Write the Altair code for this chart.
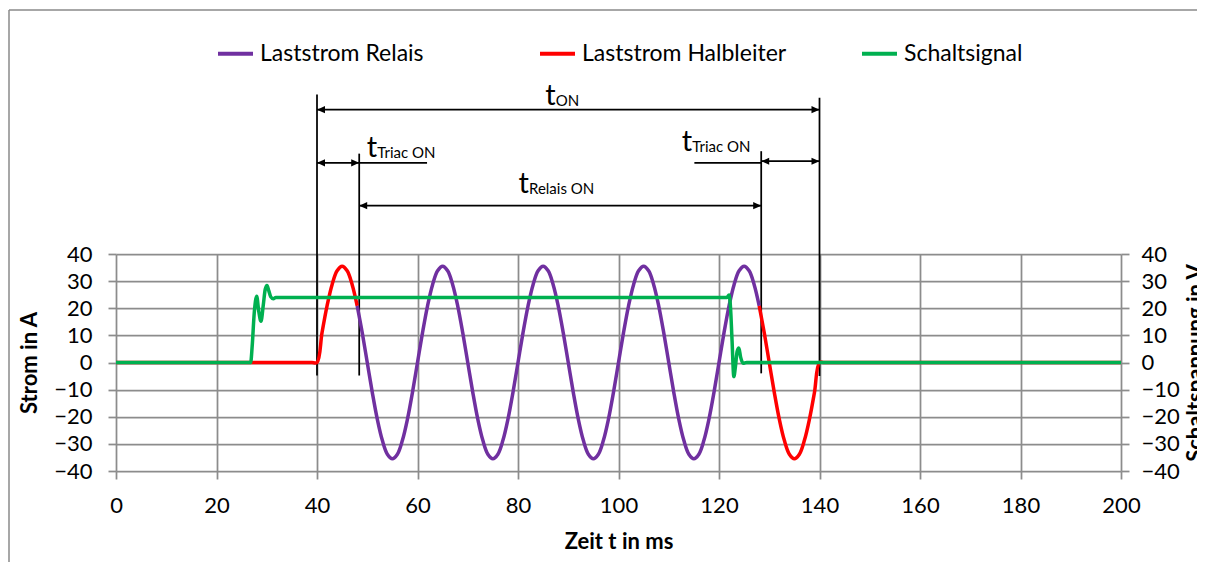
import altair as alt
import pandas as pd

# ---------------- data ----------------
series_names = ["Laststrom Relais", "Laststrom Halbleiter", "Schaltsignal"]
series_colors = ["#7030A0", "#FF0000", "#00B050"]

x_ticks = [0, 20, 40, 60, 80, 100, 120, 140, 160, 180, 200]
y_ticks = [-40, -30, -20, -10, 0, 10, 20, 30, 40]

# Laststrom Halbleiter (semiconductor current), two conducting windows
halb1_t = [0, 20, 38, 39, 40, 41, 42, 43, 44, 45, 46, 47, 48]
halb1_a = [0, 0, 0, 0, 0, 11.0, 20.9, 28.7, 33.8, 35.5, 33.8, 28.7, 20.9]
halb2_t = [128, 129, 130, 131, 132, 133, 134, 135, 136, 137, 138, 139, 140, 141, 160, 200]
halb2_a = [20.9, 11.0, 0, -11.0, -20.9, -28.7, -33.8, -35.5, -33.8, -28.7, -20.9, -11.0, 0, 0, 0, 0]

# Laststrom Relais (relay current), 48 ms .. 128 ms in 1 ms steps
relais_t = list(range(48, 129))
relais_a = [
    20.9, 11.0,
    0, -11.0, -20.9, -28.7, -33.8, -35.5, -33.8, -28.7, -20.9, -11.0,
    0, 11.0, 20.9, 28.7, 33.8, 35.5, 33.8, 28.7, 20.9, 11.0,
    0, -11.0, -20.9, -28.7, -33.8, -35.5, -33.8, -28.7, -20.9, -11.0,
    0, 11.0, 20.9, 28.7, 33.8, 35.5, 33.8, 28.7, 20.9, 11.0,
    0, -11.0, -20.9, -28.7, -33.8, -35.5, -33.8, -28.7, -20.9, -11.0,
    0, 11.0, 20.9, 28.7, 33.8, 35.5, 33.8, 28.7, 20.9, 11.0,
    0, -11.0, -20.9, -28.7, -33.8, -35.5, -33.8, -28.7, -20.9, -11.0,
    0, 11.0, 20.9, 28.7, 33.8, 35.5, 33.8, 28.7,
    20.9,
]

# Schaltsignal (switching voltage)
sig_t = [0, 26.8, 27.1, 27.5, 28.0, 28.4, 28.85, 29.3, 29.7, 30.05, 30.4, 30.8, 31.3, 31.8,
         121.6, 122.0, 122.3, 122.6, 122.95, 123.3, 123.6, 123.95, 124.3, 124.8, 125.5, 200]
sig_v = [0, 0, 6, 18, 24.4, 19, 15.2, 21, 27, 28.4, 26.5, 24.2, 23.5, 24.0,
         24.0, 24.9, 20, 8, -5.2, -1, 4, 5.3, 2, -0.3, 0, 0]

# annotation (time in ms, level in axis units)
marker_t = [40, 48.4, 128.4, 140]
marker_top = [98.8, 77.0, 77.9, 97.6]
marker_bottom = [-4.8, -4.8, -4.0, -5.0]

arrow_from = [40, 40, 128.4, 48.4]
arrow_to = [140, 48.4, 140, 128.4]
arrow_level = [93.2, 73.6, 74.2, 57.8]

leader_from = [48.4, 115.1]
leader_to = [61.9, 128.4]
leader_level = [73.6, 73.6]

label_t = [85.4, 49.9, 112.6, 80.1]
label_level = [95.1, 75.9, 77.9, 62.6]
label_sub = ["ON", "Triac ON", "Triac ON", "Relais ON"]

# ---------------- tables ----------------
cur_rows = []
for t, a in zip(halb1_t, halb1_a):
    cur_rows.append({"t": t, "a": a, "series": series_names[1], "seg": "h1"})
for t, a in zip(relais_t, relais_a):
    cur_rows.append({"t": t, "a": a, "series": series_names[0], "seg": "r"})
for t, a in zip(halb2_t, halb2_a):
    cur_rows.append({"t": t, "a": a, "series": series_names[1], "seg": "h2"})
cur_df = pd.DataFrame(cur_rows)

sig_df = pd.DataFrame({"t": sig_t, "v": sig_v, "series": series_names[2]})
markers_df = pd.DataFrame({"t": marker_t, "top": marker_top, "bottom": marker_bottom})
arrows_df = pd.DataFrame({"x1": arrow_from, "x2": arrow_to, "lvl": arrow_level})
leaders_df = pd.DataFrame({"x1": leader_from, "x2": leader_to, "lvl": leader_level})
labels_df = pd.DataFrame({"x": label_t, "lvl": label_level, "sub": label_sub})
one_df = pd.DataFrame({"k": [0]})

# ---------------- style ----------------
FONT = "Lato"
GRID = "#8c8c8c"

xscale = alt.Scale(domain=[0, 200], nice=False, zero=False)
yscale = alt.Scale(domain=[-40, 40], nice=False, zero=False)

x_axis = alt.Axis(values=x_ticks, grid=True, labelFlush=False, labelOverlap=False,
                  labelPadding=16, titlePadding=15)
y_axis_left = alt.Axis(values=y_ticks, grid=True, orient="left", labelOverlap=False,
                       labelPadding=16, titlePadding=12)
y_axis_right = alt.Axis(values=y_ticks, grid=False, orient="right", labelOverlap=False,
                        labelPadding=12, labelAlign="left", titlePadding=6,
                        titleAngle=270, titleBaseline="top")


def X(field):
    return alt.X(f"{field}:Q", scale=xscale, axis=x_axis, title="Zeit t in ms")


def Y(field):
    return alt.Y(f"{field}:Q", scale=yscale, axis=y_axis_left, title="Strom in A")


color = alt.Color(
    "series:N",
    scale=alt.Scale(domain=series_names, range=series_colors),
    title=None,
    legend=alt.Legend(orient="none", legendX=100, legendY=-220, direction="horizontal",
                      columns=3, gridAlign="all", symbolType="stroke", symbolSize=1225,
                      symbolStrokeWidth=4, labelFontSize=23, labelFont=FONT,
                      labelColor="black", labelOffset=5, columnPadding=67, padding=0,
                      labelLimit=400),
)

frame_top = alt.Chart(one_df).mark_rule(color="#8a8a8a", strokeWidth=1.5).encode(
    x=alt.value(-107), x2=alt.value(1081), y=alt.value(-244))
frame_left = alt.Chart(one_df).mark_rule(color="#8a8a8a", strokeWidth=1.5).encode(
    x=alt.value(-107), y=alt.value(-244), y2=alt.value(310))

markers = alt.Chart(markers_df).mark_rule(color="black", strokeWidth=1.75).encode(
    x=X("t"), y=Y("top"), y2="bottom")
arrow_lines = alt.Chart(arrows_df).mark_rule(color="black", strokeWidth=1.75).encode(
    x=X("x1"), x2="x2", y=Y("lvl"))
leader_lines = alt.Chart(leaders_df).mark_rule(color="black", strokeWidth=1.75).encode(
    x=X("x1"), x2="x2", y=Y("lvl"))
heads_left = alt.Chart(arrows_df).mark_point(
    shape="M0,0L2,-0.9L2,0.9Z", filled=True, size=64, color="black", opacity=1, strokeWidth=0
).encode(x=X("x1"), y=Y("lvl"))
heads_right = alt.Chart(arrows_df).mark_point(
    shape="M0,0L-2,-0.9L-2,0.9Z", filled=True, size=64, color="black", opacity=1, strokeWidth=0
).encode(x=X("x2"), y=Y("lvl"))
t_text = alt.Chart(labels_df).mark_text(
    align="left", baseline="alphabetic", fontSize=29, font=FONT, color="black"
).encode(x=X("x"), y=Y("lvl"), text=alt.value("t"))
sub_text = alt.Chart(labels_df).mark_text(
    align="left", baseline="alphabetic", fontSize=15, font=FONT, color="black", dx=10.5, dy=1
).encode(x=X("x"), y=Y("lvl"), text="sub:N")

currents = alt.Chart(cur_df).mark_line(strokeWidth=3.5, interpolate="catmull-rom").encode(
    x=X("t"), y=Y("a"), color=color, detail="seg:N")

signal = alt.Chart(sig_df).mark_line(strokeWidth=3.5, interpolate="monotone").encode(
    x=X("t"),
    y=alt.Y("v:Q", scale=yscale, axis=y_axis_right, title="Schaltspannung in V"),
    color=color,
)

inner = alt.layer(frame_top, frame_left, markers, arrow_lines, leader_lines, heads_left,
                  heads_right, t_text, sub_text, currents)

chart = (
    alt.layer(inner, signal)
    .resolve_scale(y="independent")
    .properties(width=1005, height=217,
                padding={"left": 108, "top": 246, "right": 76, "bottom": 91},
                autosize=alt.AutoSizeParams(type="none"))
    .configure(font=FONT)
    .configure_view(stroke=None)
    .configure_axis(labelFont=FONT, titleFont=FONT, labelFontSize=22, titleFontSize=22,
                    titleFontWeight="bold", labelColor="black", titleColor="black",
                    gridColor=GRID, gridWidth=1.75, tickColor=GRID, tickSize=8,
                    tickWidth=1.75, domain=False)
)

chart.save("out.html", embed_options={"renderer": "svg", "actions": False})
